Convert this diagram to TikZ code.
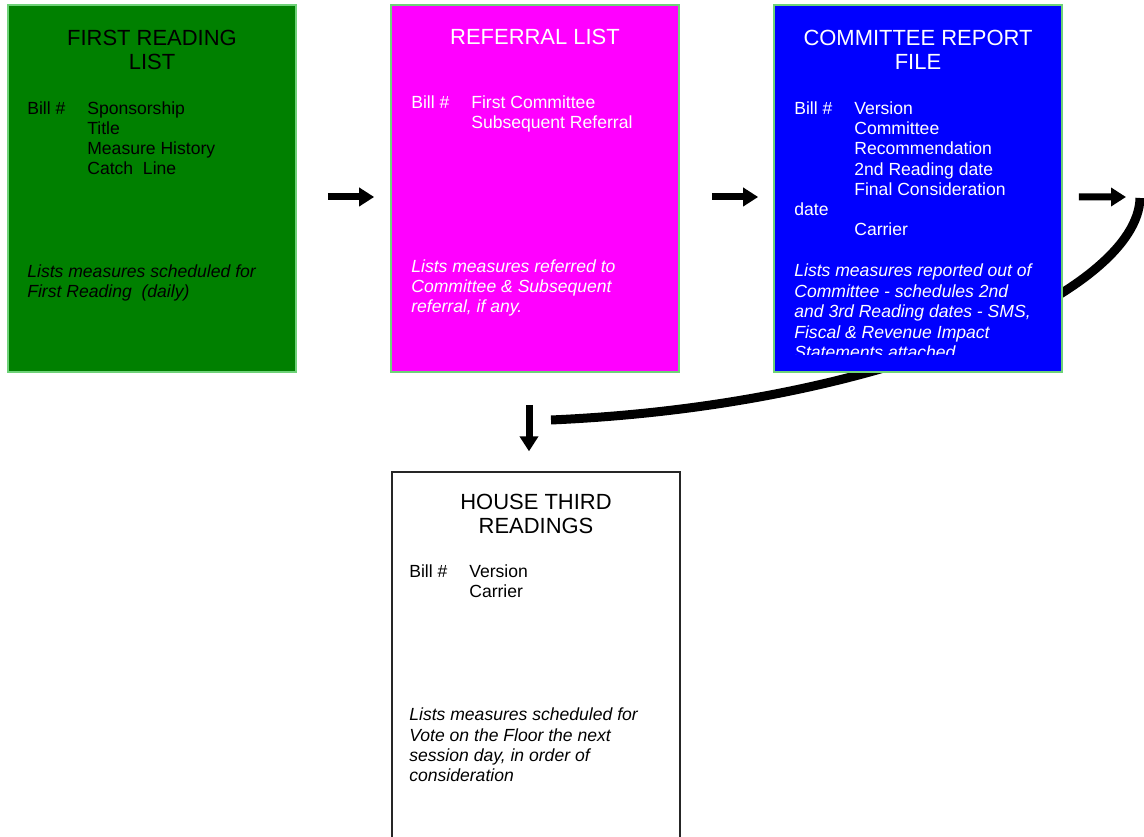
\documentclass[tikz,border=0pt]{standalone}
\usepackage{fontspec}
\setmainfont{Liberation Sans}
\usepackage{tikz}
\usetikzlibrary{arrows.meta, positioning, calc, backgrounds}
\definecolor{firstgreen}{RGB}{0,128,0}
\definecolor{edgegreen}{RGB}{110,210,120}
\definecolor{refmagenta}{RGB}{255,0,255}
\definecolor{reportblue}{RGB}{0,0,255}
\newcommand{\billcol}{\makebox[1.2cm][l]{Bill \#}}
\newcommand{\fieldcol}{\hspace*{1.2cm}}

\begin{document}
\begin{tikzpicture}[x=0.02cm, y=-0.02cm,
    list/.style={rectangle, draw=edgegreen, line width=1pt, minimum width=5.76cm, minimum height=7.34cm, inner sep=0pt},
    heading/.style={anchor=base, align=center, inner sep=0pt, font=\fontsize{12.5}{14.2}\selectfont},
    fields/.style={anchor=base west, align=left, inner sep=0pt, font=\fontsize{10}{11.55}\selectfont},
    note/.style={anchor=base west, align=left, inner sep=0pt, font=\fontsize{10}{11.6}\selectfont\itshape},
    arrow/.style={-{Triangle[length=0.3cm, width=0.36cm]}, line width=0.14cm}
]
\useasboundingbox (0,0) rectangle (1144,837);

% the four lists
\node[list, fill=firstgreen] (first) at (152,188.5) {};
\node[list, fill=refmagenta] (referral) at (535,188.5) {};
\node[list, fill=reportblue] (report) at (918,188.5) {};
\node[list, draw=black!85, line width=0.8pt, fill=white, minimum height=8.56cm] (house) at (536,686) {};

% first reading (anchored on the last line)
\node[heading] (firsttitle) at (152,70) {FIRST READING\\LIST};
\node[fields] (firstfields) at (27,175) {\billcol Sponsorship\\\fieldcol Title\\\fieldcol Measure History\\\fieldcol Catch\ \ Line};
\node[note] (firstnote) at (27,298) {Lists measures scheduled for\\First Reading\ \ (daily)};

% referral
\node[heading, text=white] (reftitle) at (535,45) {REFERRAL LIST};
\node[fields, text=white] (reffields) at (411,129) {\billcol First Committee\\\fieldcol Subsequent Referral};
\node[note, text=white] (refnote) at (411,313) {Lists measures referred to\\Committee \& Subsequent\\referral, if any.};

% committee report
\node[heading, text=white] (reporttitle) at (918,70) {COMMITTEE REPORT\\FILE};
\node[fields, text=white] (reportfields) at (794,236) {\billcol Version\\\fieldcol Committee\\\fieldcol Recommendation\\\fieldcol 2nd Reading date\\\fieldcol Final Consideration\\date\\\fieldcol Carrier};
\begin{scope}
\clip (774,5) rectangle (1062,355);
\node[note, text=white] (reportnote) at (794,358.5) {Lists measures reported out of\\Committee - schedules 2nd\\and 3rd Reading dates - SMS,\\Fiscal \& Revenue Impact\\Statements attached};
\end{scope}

% third readings
\node[heading] (housetitle) at (536,534) {HOUSE THIRD\\READINGS};
\node[fields] (housefields) at (409,598) {\billcol Version\\\fieldcol Carrier};
\node[note] (housenote) at (409,782) {Lists measures scheduled for\\Vote on the Floor the next\\session day, in order of\\consideration};

% flow
\coordinate (out) at (1126,197);
\coordinate (turn) at (1140,198);
\coordinate (bend) at (551,420);
\coordinate (drop) at (529,405);
\draw[arrow, shorten <=0.62cm, shorten >=0.32cm] ([yshift=-0.17cm]first.east) -- ([yshift=-0.17cm]referral.west);
\draw[arrow, shorten <=0.64cm, shorten >=0.3cm] ([yshift=-0.17cm]referral.east) -- ([yshift=-0.17cm]report.west);
\draw[arrow, shorten <=0.32cm] ([yshift=-0.17cm]report.east) -- (out);
\begin{scope}[on background layer]
\draw[line width=0.18cm] (turn) .. controls (1138,290) and (890,405) .. (bend);
\end{scope}
\draw[arrow, shorten >=0.4cm] (drop) -- (drop |- house.north);
\end{tikzpicture}
\end{document}
